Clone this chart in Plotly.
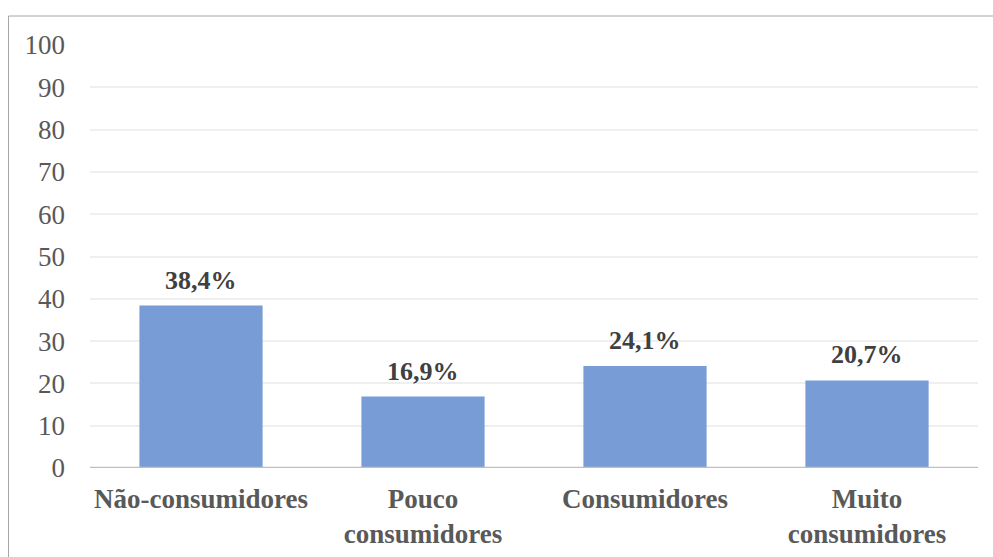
import plotly.graph_objects as go

categories = ["Não-consumidores", "Pouco<br>consumidores", "Consumidores", "Muito<br>consumidores"]
values = [38.4, 16.9, 24.1, 20.7]
value_labels = ["38,4%", "16,9%", "24,1%", "20,7%"]
y_ticks = list(range(0, 101, 10))

SERIF = "Liberation Serif, 'Times New Roman', serif"

W, H = 993, 557
ML, MR, MT, MB = 90, 15, 45, 89
pw, ph = W - ML - MR, H - MT - MB

def px_to_paper_x(px):
    return (px - ML) / pw

def px_to_paper_y(py):
    return 1 - (py - MT) / ph

fig = go.Figure(
    go.Bar(
        x=categories,
        y=values,
        marker=dict(color="#789CD5", line=dict(width=0)),
        width=0.555,
        cliponaxis=False,
    )
)

# value labels above each bar
for cat, val, lab in zip(categories, values, value_labels):
    fig.add_annotation(
        x=cat, y=val, text=lab, showarrow=False,
        xanchor="center", yanchor="bottom", yshift=9,
        font=dict(family=SERIF, size=26, color="#404040", weight="bold"),
    )

fig.update_layout(
    width=W,
    height=H,
    margin=dict(l=ML, r=MR, t=MT, b=MB, autoexpand=False),
    paper_bgcolor="white",
    plot_bgcolor="white",
    showlegend=False,
    xaxis=dict(
        showgrid=False,
        showline=False,
        ticks="",
        automargin=False,
        tickfont=dict(family=SERIF, size=27, color="#595959", weight="bold"),
        ticklabelstandoff=12,
    ),
    yaxis=dict(
        range=[0, 100],
        tickvals=y_ticks,
        showgrid=True,
        gridcolor="#EFEFEF",
        gridwidth=1.5,
        zeroline=False,
        showline=False,
        ticks="",
        automargin=False,
        tickfont=dict(family=SERIF, size=27, color="#595959"),
        ticklabelstandoff=24,
    ),
    shapes=[
        # baseline along zero
        dict(type="line", xref="paper", yref="y", x0=0, x1=1, y0=0, y1=0,
             line=dict(color="#BFBFBF", width=2.5), layer="above"),
        # chart frame (left and top edges)
        dict(type="line", xref="paper", yref="paper",
             x0=px_to_paper_x(8.5), x1=px_to_paper_x(8.5),
             y0=px_to_paper_y(16), y1=px_to_paper_y(600),
             line=dict(color="#A6A6A6", width=1)),
        dict(type="line", xref="paper", yref="paper",
             x0=px_to_paper_x(8.5), x1=px_to_paper_x(1000),
             y0=px_to_paper_y(16), y1=px_to_paper_y(16),
             line=dict(color="#A6A6A6", width=1)),
    ],
)

fig.write_html("out.html")
